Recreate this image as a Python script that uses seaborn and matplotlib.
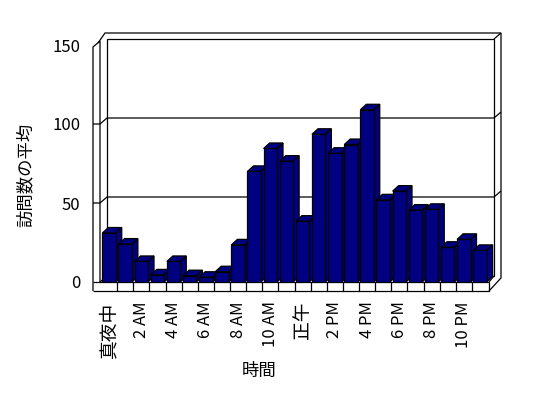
import matplotlib
matplotlib.use("Agg")
import matplotlib.pyplot as plt
import seaborn as sns
import pandas as pd
from matplotlib.patches import Polygon

# datos
horas = list(range(24))
visitas = [31, 24, 13, 4.5, 13, 4, 3, 6.5, 23.5, 70, 84.5, 76.5,
           38.5, 93.5, 81.5, 87, 109, 52, 57.5, 45.5, 46, 22, 27, 20]
etiquetas_x = ['真夜中', '2 AM', '4 AM', '6 AM', '8 AM', '10 AM',
               '正午', '2 PM', '4 PM', '6 PM', '8 PM', '10 PM']
ticks_y = [0, 50, 100, 150]
grid_y = [50, 100]

sns.set_theme(style="white")
plt.rcParams['font.family'] = ['Noto Sans CJK JP', 'DejaVu Sans']
plt.rcParams['text.color'] = 'black'
plt.rcParams['xtick.color'] = 'black'
plt.rcParams['ytick.color'] = 'black'

W, H = 548, 398
fig = plt.figure(figsize=(W / 100, H / 100), dpi=100)
ax = fig.add_axes([101 / W, 116 / H, 387 / W, 237 / H])
ax.patch.set_alpha(0)

df = pd.DataFrame({'hora': horas, 'visitas': visitas})
sns.barplot(data=df, x='hora', y='visitas', color='#000080', saturation=1,
            width=0.83, edgecolor='black', linewidth=0.8, errorbar=None, ax=ax)

xa, xb = -0.5, len(horas) - 0.5
ymax = 150
ax.set_xlim(xa, xb)
ax.set_ylim(0, ymax)
for s in ax.spines.values():
    s.set_visible(False)
ax.set_xlabel('')
ax.set_ylabel('')


def px2data(dx, dy):
    # desplazamiento en pixeles -> unidades de datos
    x0, y0 = ax.transData.transform((0, 0))
    return ax.transData.inverted().transform((x0 + dx, y0 + dy))


def linea(puntos, z=1):
    xs, ys = [], []
    for xd, yd, ox, oy in puntos:
        ddx, ddy = px2data(ox, oy)
        xs.append(xd + ddx)
        ys.append(yd + ddy)
    ax.plot(xs, ys, color='black', lw=0.9, clip_on=False, zorder=z,
            solid_capstyle='butt', solid_joinstyle='miter')


# paredes y piso (estilo 3D)
linea([(xa, 0, -8, -9), (xa, ymax, -8, -2), (xa, ymax, -1, 4), (xa, 0, -1, 0)])
linea([(xa, 0, -8, -9), (xb, 0, 1, -9), (xb, 0, 1, 0)])
linea([(xa, 0, -8, 0), (xb, 0, 1, 0)])
linea([(xa, ymax, -3, 2), (xa, ymax, 4, 12), (xb, ymax, 13, 12),
       (xb, 0, 13, 4), (xb, 0, 1, -9)])
linea([(xa, 0, 6, 6), (xa, ymax, 6, 6), (xb, ymax, 6, 6), (xb, 0, 6, 6), (xa, 0, 6, 6)])
linea([(xb, ymax, 6, 6), (xb, ymax, 13, 12)])
linea([(xa, 0, -1, 0), (xa, 0, 6, 6)])
linea([(xb, 0, 1, 0), (xb, 0, 6, 6)])
for v in grid_y:
    linea([(xa, v, -8, 0), (xa, v, -1, 0), (xa, v, 6, 6), (xb, v, 6, 6), (xb, v, 13, 12)])
for i in range(1, len(horas)):
    linea([(i - 0.5, 0, 0, 0), (i - 0.5, 0, 0, -9)])

# caras superiores y laterales de las barras
ddx, ddy = px2data(6, 5.5)
for i, p in enumerate(ax.patches):
    x, w, h = p.get_x(), p.get_width(), p.get_height()
    p.set_zorder(3 + 2 * i + 1)
    p.set_linewidth(0.9)
    top = Polygon([(x, h), (x + w, h), (x + w + ddx, h + ddy), (x + ddx, h + ddy)],
                  closed=True, facecolor='#000080', edgecolor='black', lw=0.9,
                  zorder=3 + 2 * i, clip_on=False)
    side = Polygon([(x + w, 0), (x + w, h), (x + w + ddx, h + ddy), (x + w + ddx, ddy)],
                   closed=True, facecolor='#000080', edgecolor='black', lw=0.9,
                   zorder=3 + 2 * i, clip_on=False)
    ax.add_patch(side)
    ax.add_patch(top)

ax.set_yticks(ticks_y)
ax.set_yticklabels([str(t) for t in ticks_y], fontsize=12)
ax.tick_params(axis='y', length=0, pad=15, labelcolor='black')
ax.set_xticks(range(0, 24, 2))
ax.set_xticklabels(etiquetas_x, rotation=90)
ax.tick_params(axis='x', length=0, pad=14, labelcolor='black')
for lab in ax.get_xticklabels():
    lab.set_fontsize(13.5 if lab.get_text() in ('真夜中', '正午') else 12)

fig.text(26 / W, 1 - 175 / H, '訪問数の平均', rotation=90, ha='center', va='center',
         fontsize=12.5, color='black')
fig.text(259 / W, 1 - 371 / H, '時間', ha='center', va='center', fontsize=12.5, color='black')

fig.savefig('out.png', dpi=100)
